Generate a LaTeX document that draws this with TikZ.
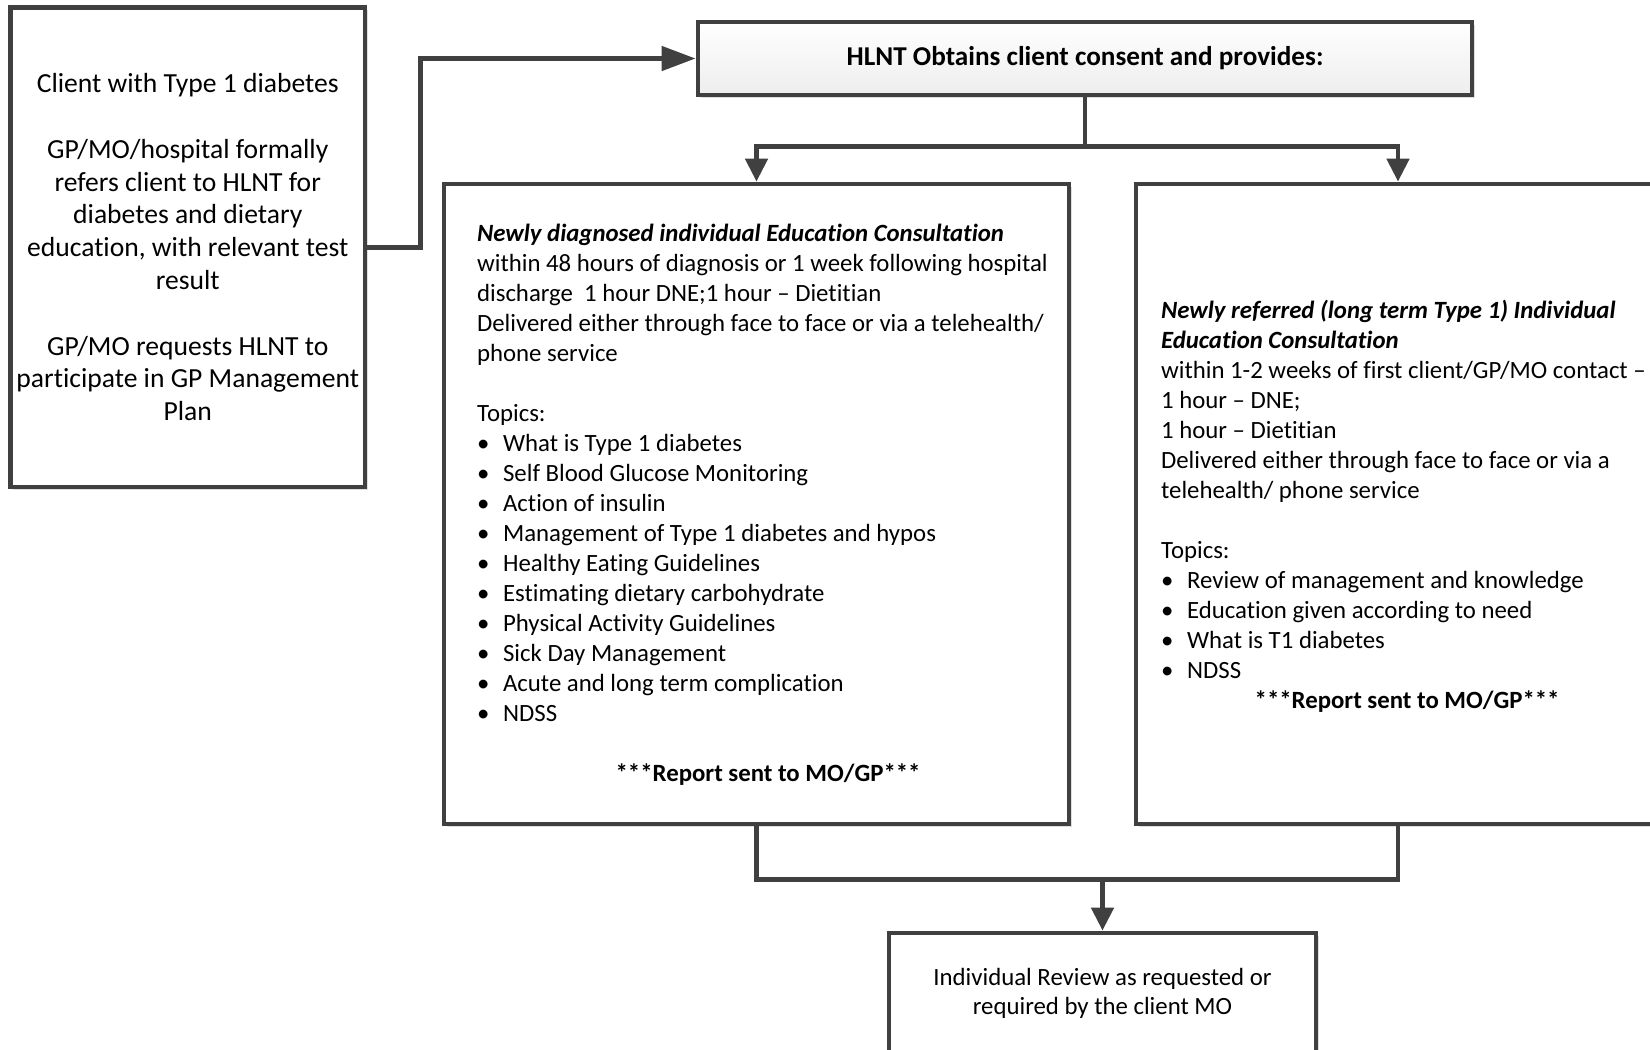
\documentclass[tikz,border=0pt]{standalone}
\usepackage{fontspec}
\setmainfont{Carlito}[Ligatures={NoCommon}]
\usetikzlibrary{arrows.meta,shadows}
\definecolor{edge}{HTML}{404040}
\newcommand\itemdot{\makebox[13pt][l]{\textbullet}}
\begin{document}
\begin{tikzpicture}[x=0.5pt,y=-0.5pt,
  box/.style={draw=edge, line width=2.4pt, fill=white, rectangle, inner sep=0pt,
    drop shadow={shadow xshift=1.3pt, shadow yshift=-1.3pt, fill=black!13, opacity=1}},
  link/.style={draw=edge, line width=2.4pt},
  arr/.style={link, -{Triangle[length=11.5pt,width=11pt]}},
  longarr/.style={link, -{Triangle[length=17pt,width=12pt]}},
  body/.style={font=\fontsize{12.4}{15}\selectfont, inner sep=0pt, align=left, text=black},
]
\clip (0,0) rectangle (1650,1050);
\fill[white] (0,0) rectangle (1650,1050);

% referral box
\node[box, minimum width=177.25pt, minimum height=239.8pt,
      font=\fontsize{13.8}{16.4}\selectfont, align=center] (lb) at (187.75,247.2)
  {Client with Type 1 diabetes\\[16.4pt]
   GP/MO/hospital formally\\refers client to HLNT for\\diabetes and dietary\\
   education, with relevant test\\result\\[16.4pt]
   GP/MO requests HLNT to\\participate in GP Management\\Plan};

% consent box
\node[box, top color=white, bottom color=black!7, minimum width=387pt, minimum height=36.5pt,
      font=\fontsize{13.6}{15}\selectfont\bfseries] (top) at (1085,58.5)
  {HLNT Obtains client consent and provides:};

% newly diagnosed consultation
\node[box, minimum width=312.5pt, minimum height=320pt] (mid) at (756.5,504) {};
\node[body, anchor=north west] (midtext) at (476.7,224)
  {\textbf{\textit{Newly diagnosed individual Education Consultation}}\\
   within 48 hours of diagnosis or 1 week following hospital\\
   discharge\ \ 1 hour DNE;1 hour – Dietitian\\
   Delivered either through face to face or via a telehealth/\\
   phone service\\[15pt]
   Topics:\\
   \itemdot What is Type 1 diabetes\\
   \itemdot Self Blood Glucose Monitoring\\
   \itemdot Action of insulin\\
   \itemdot Management of Type 1 diabetes and hypos\\
   \itemdot Healthy Eating Guidelines\\
   \itemdot Estimating dietary carbohydrate\\
   \itemdot Physical Activity Guidelines\\
   \itemdot Sick Day Management\\
   \itemdot Acute and long term complication\\
   \itemdot NDSS\\[15pt]
   \makebox[291pt]{\textbf{***Report sent to MO/GP***}}};

% newly referred consultation
\node[box, minimum width=262pt, minimum height=320pt] (rb) at (1398,504) {};
\node[body, anchor=north west] (rbtext) at (1160.7,299.6)
  {\textbf{\textit{Newly referred (long term Type 1) Individual}}\\
   \textbf{\textit{Education Consultation}}\\
   within 1-2 weeks of first client/GP/MO contact –\\
   1 hour – DNE;\\
   1 hour – Dietitian\\
   Delivered either through face to face or via a\\
   telehealth/ phone service\\[15pt]
   Topics:\\
   \itemdot Review of management and knowledge\\
   \itemdot Education given according to need\\
   \itemdot What is T1 diabetes\\
   \itemdot NDSS\\
   \makebox[246pt]{\textbf{***Report sent to MO/GP***}}};

% review box
\node[box, minimum width=213.5pt, minimum height=60.5pt,
      font=\fontsize{12.4}{14.75}\selectfont, align=center] (bot) at (1102.5,993.5)
  {Individual Review as requested or\\required by the client MO};

% connectors
\draw[longarr] (lb.east) -- ++(53,0) |- (top.west);
\draw[link] (top.south) -- ++(0,49) coordinate (split);
\draw[arr] (split) -| (mid.north);
\draw[arr] (split) -| (rb.north);
\draw[link] (mid.south) -- ++(0,53) coordinate (join) -| (rb.south);
\draw[arr] (join -| bot.north) -- (bot.north);
\end{tikzpicture}
\end{document}
